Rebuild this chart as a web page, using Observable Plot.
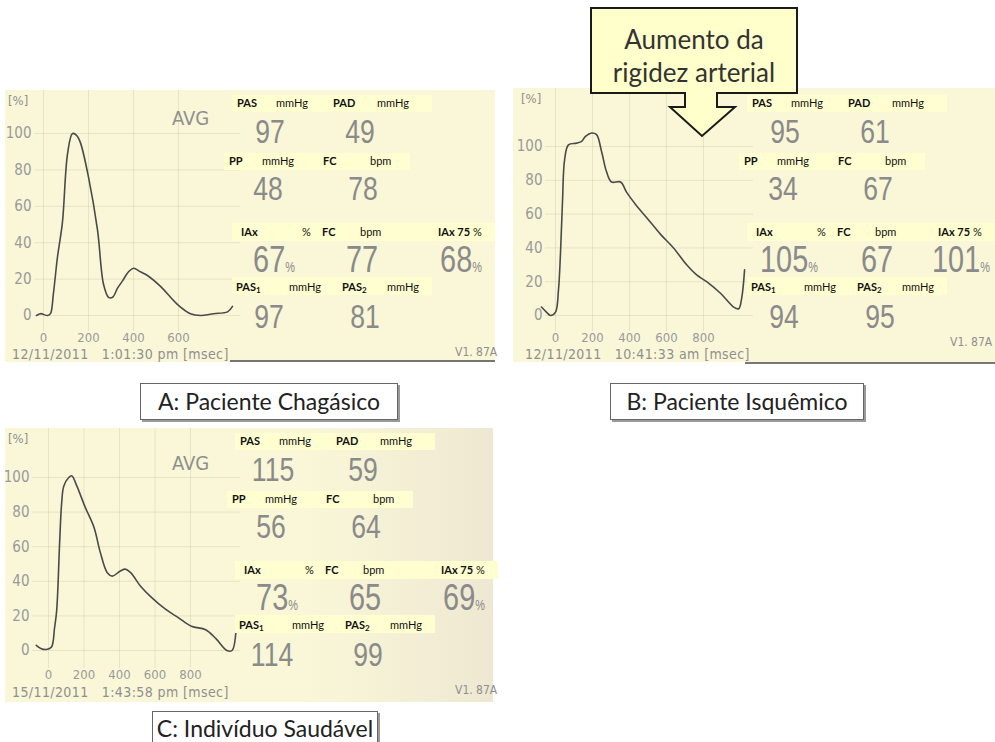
<!DOCTYPE html>
<html><head><meta charset="utf-8">
<script src="https://cdn.jsdelivr.net/npm/d3@7"></script>
<script src="https://cdn.jsdelivr.net/npm/@observablehq/plot@0.6"></script>
<style>
body{margin:0;background:#fff;}
#root{position:relative;width:995px;height:742px;overflow:hidden;font-family:Lato,"Open Sans",sans-serif;}
.abs{position:absolute;white-space:nowrap;}
.lab{font-size:11px;color:#111;line-height:12px;}
.lab sub{font-size:8px;line-height:0;vertical-align:-2px;}
.num{color:#8a8a8a;font-family:"Liberation Sans",Arial,sans-serif;line-height:0.72;transform-origin:50% 50%;}
.print{color:#8f8f8f;font-family:"DejaVu Sans Condensed","Liberation Sans",sans-serif;line-height:1;}
.cap{background:#fff;border:1px solid #666;box-shadow:2px 2px 0 #9a9a9a;font-size:23px;color:#222;text-align:center;box-sizing:border-box;}
</style></head>
<body><div id="root"></div>
<script>
// ---------- data ----------
const timeA = [-31,-13,18,31,44,62,84,107,129,147,164,200,240,267,289,307,329,351,378,400,431,462,520,596,653,698,756,818,840];
const pctA  = [0,1,0,1,12,32,51,89,100,99,95,76,47,17,10,10,15,19,24,26,24,22,16,6,1,0,1,2,5];
const timeB = [-76,-49,-27,0,16,27,38,49,70,114,141,162,195,222,249,276,303,352,384,438,492,568,638,709,763,817,893,963,990,1006,1022];
const pctB  = [5,2,0,2,15,37,68,92,101,102,103,106,108,107,97,85,79,79,73,65,58,48,40,30,24,20,13,5,4,10,27];
const timeC = [-69,-40,-11,17,34,46,63,74,86,114,131,160,206,257,291,331,360,405,434,463,520,577,657,731,805,885,942,1005,1034,1057];
const pctC  = [3,1,0.6,2,13,23,63,85,95,100,101,95,83,71,57,45,43,46,47,45,37,31,24,19,14,12,7,0,0,13];

const yTicks = [0,20,40,60,80,100];
const xTicksA = [0,200,400,600];
const xTicksBC = [0,200,400,600,800];

const captions = ["A: Paciente Chagásico","B: Paciente Isquêmico","C: Indivíduo Saudável"];
const dates = ["12/11/2011","12/11/2011","15/11/2011"];
const clock = ["1:01:30 pm","10:41:33 am","1:43:58 pm"];
const PAS  = [97,95,115];
const PAD  = [49,61,59];
const PP   = [48,34,56];
const FC1  = [78,67,64];
const IAx  = [67,105,73];
const FC2  = [77,67,65];
const IAx75= [68,101,69];
const PAS1 = [97,94,114];
const PAS2 = [81,95,99];
const calloutText = ["Aumento da","rigidez arterial"];

// ---------- helpers ----------
const root = document.getElementById("root");
function add(css, html, cls){
  const e = document.createElement("div");
  e.className = "abs " + (cls||"");
  e.style.cssText = css;
  if (html != null) e.innerHTML = html;
  root.appendChild(e);
  return e;
}

// cream panels
add("left:5px;top:90px;width:490px;height:272px;background:#f9f7d8;");
add("left:513px;top:88px;width:482px;height:274px;background:#f9f7d8;");
add("left:5px;top:428px;width:488px;height:274px;background:linear-gradient(to right,#f9f7d8 0%,#f9f7d8 62%,#eee8d2 100%);");
// paper bottom edges
add("left:230px;top:360px;width:265px;height:2px;background:#555;opacity:.8;");
add("left:745px;top:362px;width:250px;height:2px;background:#555;opacity:.8;");

// ---------- waveform charts ----------
function chart(t, p, xt, cfg){
  const svg = Plot.plot({
    width: cfg.w, height: cfg.h,
    marginLeft: cfg.ml, marginRight: 0, marginTop: 0, marginBottom: cfg.mb,
    style: {background:"transparent", color:"#9a9a9a", fontSize:"13px",
            fontFamily:'"DejaVu Sans Condensed","Liberation Sans",sans-serif', overflow:"visible"},
    x: {domain:[0,800], range: cfg.xr},
    y: {domain:[0,100], range: cfg.yr},
    marks: [
      Plot.gridY(yTicks, {stroke:"#bdb88f", strokeOpacity:0.3}),
      Plot.gridX(xt, {stroke:"#bdb88f", strokeOpacity:0.3}),
      Plot.axisY(yTicks, {tickSize:0, tickPadding:3, label:null, fontSize:15}),
      Plot.axisX(xt, {tickSize:0, tickPadding:1, label:null, fontSize:13}),
      Plot.line(p, {x: t, y: p, stroke:"#4a4a4a", strokeWidth:1.6, curve:"catmull-rom"})
    ]
  });
  svg.style.position = "absolute";
  svg.style.left = cfg.left + "px";
  svg.style.top = cfg.top + "px";
  root.appendChild(svg);
}
chart(timeA, pctA, xTicksA,  {left:0,   top:90,  w:240, h:262, ml:34, mb:21, xr:[43,223],  yr:[225,43]});
chart(timeB, pctB, xTicksBC, {left:513, top:88,  w:240, h:264, ml:32, mb:21, xr:[42,190],  yr:[227,58]});
chart(timeC, pctC, xTicksBC, {left:0,   top:428, w:240, h:262, ml:32, mb:22, xr:[48,190],  yr:[222,49]});

// printed annotations around charts
const offs = [{dx:0,dy:0,dx3:0},{dx:515,dy:0,dx3:500},{dx:3,dy:338,dx3:0}];
const chartTop = [90,88,428];
const chartLeft = [0,513,0];
[0,1,2].forEach(i=>{
  add(`left:${chartLeft[i]+8}px;top:${chartTop[i]+4}px;font-size:13px;`, "[%]", "print");
  add(`left:${chartLeft[i]+12}px;top:${(i==2?685:347)}px;font-size:14px;letter-spacing:0.4px;`,
      `${dates[i]}&nbsp;&nbsp;&nbsp;${clock[i]} [msec]`, "print");
});
add("left:172px;top:108px;font-size:20px;", "AVG", "print");
add("left:172px;top:453px;font-size:20px;", "AVG", "print");
add("left:455px;top:346px;font-size:12px;", "V1. 87A", "print");
add("left:950px;top:336px;font-size:12px;", "V1. 87A", "print");
add("left:455px;top:684px;font-size:12px;", "V1. 87A", "print");

// ---------- numeric readout panels ----------
function band(x1, x2, y1, y2){
  const right = Math.min(x2, 995);
  add(`left:${x1}px;top:${y1}px;width:${right-x1}px;height:${y2-y1}px;background:#fffed0;`);
}
function lab(x, y, html){
  add(`left:${x}px;top:${y-6}px;`, html, "lab");
}
function num(cx, cy, v, size, pct){
  const html = pct ? `${v}<span style="font-size:${Math.round(size*0.38)}px">%</span>` : `${v}`;
  const e = add(`left:${cx}px;top:${cy}px;font-size:${size}px;`, html, "num");
  e.style.transform = "translate(-50%,-50%) scaleX(0.78)";
}
[0,1,2].forEach(i=>{
  const o = offs[i], X = x => x + o.dx, X3 = x => x + (o.dx3 || o.dx), Y = y => y + o.dy;
  band(X(232), X(432), Y(95), Y(112));
  band(X(224), X(410), Y(153), Y(170));
  band(X(232), X3(495), Y(223), Y(241));
  band(X(232), X(432), Y(277), Y(295));
  // row 1
  lab(X(237), Y(103), "<b>PAS</b>"); lab(X(276), Y(103), "mmHg"); lab(X(333), Y(103), "<b>PAD</b>"); lab(X(377), Y(103), "mmHg");
  num(X(270), Y(131), PAS[i], 34); num(X(360), Y(131), PAD[i], 34);
  // row 2
  lab(X(229), Y(161), "<b>PP</b>"); lab(X(262), Y(161), "mmHg"); lab(X(323), Y(161), "<b>FC</b>"); lab(X(370), Y(161), "bpm");
  num(X(268), Y(188), PP[i], 34); num(X(363), Y(188), FC1[i], 34);
  // row 3
  lab(X(241), Y(232), "<b>IAx</b>"); lab(X(302), Y(232), "%"); lab(X(322), Y(232), "<b>FC</b>"); lab(X(360), Y(232), "bpm");
  lab(X3(438), Y(232), "<b>IAx 75</b> %");
  num(X(274), Y(260), IAx[i], 37, true); num(X(362), Y(260), FC2[i], 37); num(X3(461), Y(260), IAx75[i], 37, true);
  // row 4
  lab(X(236), Y(287), "<b>PAS<sub>1</sub></b>"); lab(X(289), Y(287), "mmHg");
  lab(X(342), Y(287), "<b>PAS<sub>2</sub></b>"); lab(X(387), Y(287), "mmHg");
  num(X(269), Y(316), PAS1[i], 34); num(X(365), Y(316), PAS2[i], 34);
});

// ---------- captions ----------
add("left:140px;top:383px;width:258px;height:37px;line-height:35px;", captions[0], "cap");
add("left:610px;top:383px;width:254px;height:37px;line-height:35px;", captions[1], "cap");
add("left:152px;top:711px;width:226px;height:40px;line-height:33px;", captions[2], "cap");

// ---------- callout ----------
const ns = "http://www.w3.org/2000/svg";
const cs = document.createElementNS(ns, "svg");
cs.setAttribute("width", 995); cs.setAttribute("height", 742);
cs.style.cssText = "position:absolute;left:0;top:0;pointer-events:none;";
const path = document.createElementNS(ns, "path");
path.setAttribute("d", "M591,8 H797 V93 H717 V107 H735 L702,136 L670,107 H685 V93 H591 Z");
path.setAttribute("fill", "#ffffcc");
path.setAttribute("stroke", "#1a1a1a");
path.setAttribute("stroke-width", "2");
cs.appendChild(path);
root.appendChild(cs);
add("left:591px;top:23px;width:206px;text-align:center;font-size:26px;color:#333;line-height:33px;", calloutText[0] + "<br>" + calloutText[1]);
</script></body></html>
